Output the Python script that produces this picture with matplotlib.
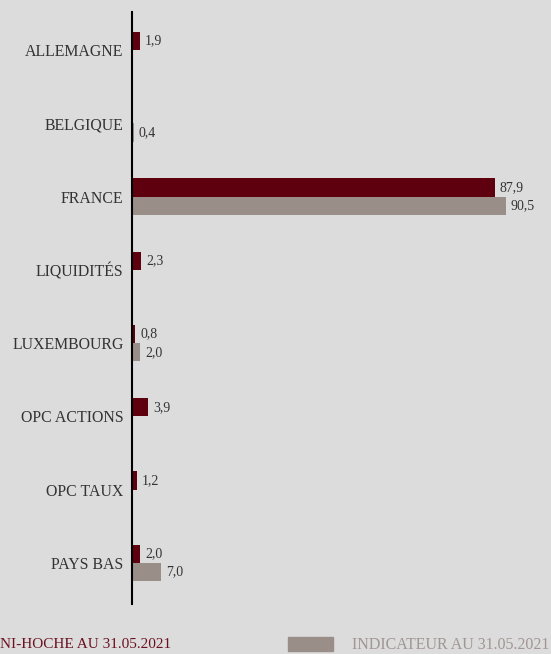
import numpy as np
import matplotlib
matplotlib.use('Agg')
import matplotlib.pyplot as plt
from matplotlib.patches import Rectangle

categories = ['ALLEMAGNE', 'BELGIQUE', 'FRANCE', 'LIQUIDITÉS', 'LUXEMBOURG',
              'OPC ACTIONS', 'OPC TAUX', 'PAYS BAS']
fonds = [1.9, 0.0, 87.9, 2.3, 0.8, 3.9, 1.2, 2.0]
indicateur = [0.0, 0.4, 90.5, 0.0, 2.0, 0.0, 0.0, 7.0]

red = '#5e000e'
grey = '#9a8e89'
bg = '#dcdcdc'

plt.rcParams['font.family'] = ['Liberation Serif', 'DejaVu Serif']

fig = plt.figure(figsize=(5.51, 6.54), dpi=100, facecolor=bg)
ax = fig.add_axes([132 / 551, 50 / 654, 1 - 132 / 551, 592 / 654])
ax.set_facecolor(bg)

y = np.arange(len(categories))
h = 0.25
ax.barh(y - h / 2, fonds, height=h, color=red)
ax.barh(y + h / 2, indicateur, height=h, color=grey)

for i in range(len(categories)):
    if fonds[i] > 0:
        ax.annotate(f'{fonds[i]:.1f}'.replace('.', ','), (fonds[i], y[i] - h / 2),
                    xytext=(3.5, 0), textcoords='offset points', va='center',
                    fontsize=10, color='#333333')
    if indicateur[i] > 0:
        ax.annotate(f'{indicateur[i]:.1f}'.replace('.', ','), (indicateur[i], y[i] + h / 2),
                    xytext=(3.5, 0), textcoords='offset points', va='center',
                    fontsize=10, color='#333333')

ax.set_xlim(0, 101.5)
ax.set_ylim(7.56, -0.52)
ax.set_yticks(y)
ax.set_yticklabels(categories, fontsize=11.4, color='#333333')
ax.tick_params(axis='y', length=0, pad=6)
ax.set_xticks([])
for s in ['top', 'right', 'bottom']:
    ax.spines[s].set_visible(False)
ax.spines['left'].set_linewidth(1.5)
ax.spines['left'].set_color('black')

# legende en bas (coupée à gauche comme sur l'original)
fig.text(0, 1 - 645 / 654, 'NI-HOCHE AU 31.05.2021', color='#6b1020',
         fontsize=11, va='center', ha='left')
fig.patches.append(Rectangle((288 / 551, 1 - 651 / 654), 45 / 551, 14 / 654,
                             transform=fig.transFigure, color=grey))
fig.text(352 / 551, 1 - 645 / 654, 'INDICATEUR AU 31.05.2021', color='#a09693',
         fontsize=11.5, va='center', ha='left')

fig.savefig('out.png', dpi=100, facecolor=bg)
